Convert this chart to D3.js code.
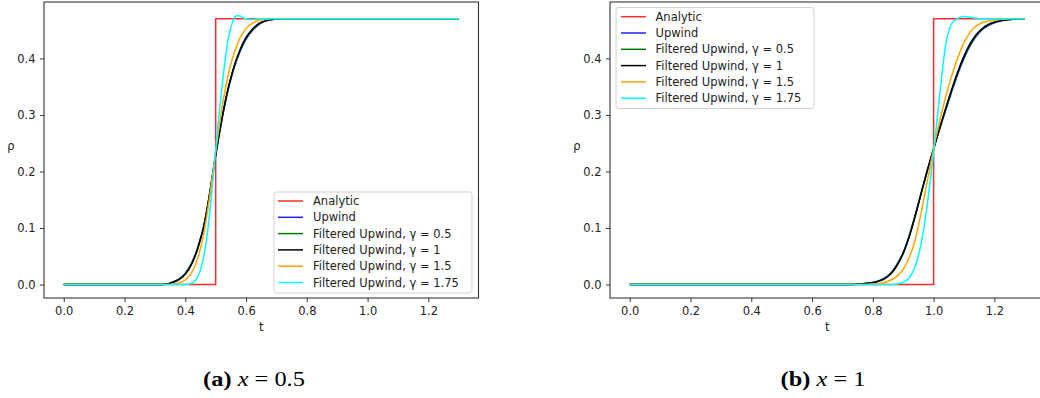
<!DOCTYPE html>
<html><head><meta charset="utf-8">
<script src="https://cdn.jsdelivr.net/npm/d3@7"></script>
<style>body{margin:0;background:#fff}svg{display:block}</style>
</head><body><svg id="c" width="1040" height="398"></svg>
<script>
// ---------- data ----------
const seriesNames = ["Analytic", "Upwind", "Filtered Upwind, γ = 0.5", "Filtered Upwind, γ = 1", "Filtered Upwind, γ = 1.5", "Filtered Upwind, γ = 1.75"];
const xTickValues = [0.0, 0.2, 0.4, 0.6, 0.8, 1.0, 1.2];
const yTickValues = [0.0, 0.1, 0.2, 0.3, 0.4];

// panel (a): x = 0.5
const analyticTA = [0, 0.5, 0.5, 1.3];
const analyticRhoA = [0, 0, 0.47, 0.47];
const tA = [0, 0.30, 0.34, 0.36, 0.38, 0.40, 0.42, 0.44, 0.45, 0.46, 0.47, 0.48, 0.49, 0.50, 0.51, 0.52, 0.53, 0.54, 0.55, 0.56, 0.57, 0.58, 0.59, 0.60, 0.62, 0.64, 0.66, 0.68, 0.72, 1.30];
const upwindA  = [0, 0, 0.001, 0.005, 0.010, 0.020, 0.037, 0.064, 0.082, 0.102, 0.129, 0.160, 0.194, 0.228, 0.260, 0.290, 0.317, 0.342, 0.363, 0.382, 0.398, 0.412, 0.424, 0.434, 0.449, 0.459, 0.465, 0.468, 0.470, 0.470];
const filt05A  = [0, 0, 0.001, 0.004, 0.009, 0.019, 0.036, 0.063, 0.081, 0.101, 0.128, 0.160, 0.195, 0.229, 0.261, 0.291, 0.319, 0.344, 0.365, 0.384, 0.400, 0.414, 0.426, 0.436, 0.450, 0.460, 0.466, 0.469, 0.470, 0.470];
const filt1A   = [0, 0, 0.001, 0.004, 0.009, 0.018, 0.035, 0.062, 0.080, 0.100, 0.128, 0.160, 0.195, 0.230, 0.262, 0.292, 0.320, 0.345, 0.366, 0.385, 0.401, 0.415, 0.427, 0.437, 0.451, 0.461, 0.466, 0.469, 0.470, 0.470];
const filt15A  = [0, 0, 0, 0.001, 0.003, 0.008, 0.020, 0.045, 0.064, 0.088, 0.119, 0.155, 0.195, 0.235, 0.274, 0.310, 0.341, 0.368, 0.390, 0.408, 0.423, 0.436, 0.445, 0.453, 0.462, 0.467, 0.469, 0.470, 0.470, 0.470];
const filt175A = [0, 0, 0, 0, 0, 0, 0.002, 0.013, 0.026, 0.048, 0.080, 0.125, 0.180, 0.238, 0.295, 0.345, 0.392, 0.430, 0.455, 0.470, 0.476, 0.475, 0.472, 0.470, 0.469, 0.470, 0.470, 0.470, 0.470, 0.470];

// panel (b): x = 1
const analyticTB = [0, 1.0, 1.0, 1.3];
const analyticRhoB = [0, 0, 0.47, 0.47];
const tB = [0, 0.70, 0.76, 0.80, 0.82, 0.84, 0.86, 0.88, 0.90, 0.92, 0.94, 0.96, 0.98, 1.00, 1.02, 1.04, 1.06, 1.08, 1.10, 1.12, 1.14, 1.16, 1.18, 1.20, 1.22, 1.25, 1.30];
const upwindB  = [0, 0, 0.001, 0.004, 0.007, 0.012, 0.021, 0.036, 0.057, 0.087, 0.124, 0.164, 0.203, 0.240, 0.275, 0.309, 0.342, 0.373, 0.400, 0.422, 0.439, 0.451, 0.458, 0.463, 0.466, 0.469, 0.470];
const filt05B  = [0, 0, 0.001, 0.003, 0.006, 0.011, 0.020, 0.035, 0.056, 0.086, 0.123, 0.163, 0.203, 0.240, 0.276, 0.311, 0.344, 0.375, 0.402, 0.424, 0.441, 0.452, 0.459, 0.464, 0.467, 0.469, 0.470];
const filt1B   = [0, 0, 0.001, 0.003, 0.006, 0.011, 0.019, 0.034, 0.055, 0.085, 0.122, 0.163, 0.203, 0.240, 0.277, 0.312, 0.346, 0.377, 0.404, 0.426, 0.442, 0.453, 0.460, 0.464, 0.467, 0.469, 0.470];
const filt15B  = [0, 0, 0, 0.001, 0.002, 0.004, 0.008, 0.015, 0.027, 0.048, 0.080, 0.130, 0.185, 0.240, 0.290, 0.332, 0.370, 0.402, 0.428, 0.446, 0.457, 0.463, 0.466, 0.468, 0.469, 0.470, 0.470];
const filt175B = [0, 0, 0, 0, 0, 0, 0, 0.001, 0.004, 0.012, 0.033, 0.075, 0.145, 0.235, 0.335, 0.425, 0.462, 0.471, 0.474, 0.473, 0.471, 0.470, 0.470, 0.470, 0.470, 0.470, 0.470];

// ---------- styles / layout ----------
const seriesColors = ["#ff2a2a", "#1f1fff", "#007a00", "#000000", "#ffa500", "#00ffff"];
const FONT = "'DejaVu Sans', sans-serif";
const panels = [
  {left: 44, ta: analyticTA, ra: analyticRhoA, t: tA, series: [upwindA, filt05A, filt1A, filt15A, filt175A],
   legend: {x: 274, y: 192, w: 198, h: 101, row0: 201, hx0: 278, hx1: 303, tx: 313},
   caption: {cx: 254, label: "(a)", rest: "0.5"}},
  {left: 610, ta: analyticTB, ra: analyticRhoB, t: tB, series: [upwindB, filt05B, filt1B, filt15B, filt175B],
   legend: {x: 616, y: 7.5, w: 198, h: 101, row0: 16.7, hx0: 621, hx1: 646, tx: 655.5},
   caption: {cx: 823, label: "(b)", rest: "1"}}
];
const W = 434.5, TOP = 2, BOT = 298, ROW = 16.3;

const svg = d3.select("#c");

panels.forEach(p => {
  const x = d3.scaleLinear().domain([-0.065, 1.365]).range([p.left, p.left + W]);
  const y = d3.scaleLinear().domain([-0.0238, 0.4998]).range([BOT, TOP]);
  const g = svg.append("g");

  // lines
  const lin = d3.line().x(d => x(d[0])).y(d => y(d[1]));
  const smooth = d3.line().x(d => x(d[0])).y(d => y(d[1])).curve(d3.curveMonotoneX);
  g.append("path").datum(p.ta.map((t, i) => [t, p.ra[i]]))
    .attr("d", lin).attr("fill", "none").attr("stroke", seriesColors[0]).attr("stroke-width", 1.5);
  p.series.forEach((s, k) => {
    g.append("path").datum(p.t.map((t, i) => [t, s[i]]))
      .attr("d", smooth).attr("fill", "none").attr("stroke", seriesColors[k + 1])
      .attr("stroke-width", 1.5).attr("stroke-linejoin", "round");
  });

  // spines
  g.append("rect").attr("x", p.left).attr("y", TOP).attr("width", W).attr("height", BOT - TOP)
    .attr("fill", "none").attr("stroke", "#333").attr("stroke-width", 1.1);

  // axes
  const xa = g.append("g").attr("transform", `translate(0,${BOT})`)
    .call(d3.axisBottom(x).tickValues(xTickValues).tickFormat(d3.format(".1f")).tickSize(4).tickPadding(5));
  const ya = g.append("g").attr("transform", `translate(${p.left},0)`)
    .call(d3.axisLeft(y).tickValues(yTickValues).tickFormat(d3.format(".1f")).tickSize(4).tickPadding(4.5));
  [xa, ya].forEach(a => {
    a.select(".domain").remove();
    a.selectAll("line").attr("stroke", "#333");
    a.selectAll("text").attr("font-family", FONT).attr("font-size", 11.5).attr("fill", "#222");
  });

  // axis labels
  g.append("text").attr("x", p.left + W / 2).attr("y", 327).attr("dy", "0.35em")
    .attr("text-anchor", "middle").attr("font-family", FONT).attr("font-size", 11.5).attr("fill", "#222").text("t");
  g.append("text").attr("x", p.left - 33).attr("y", 146).attr("dy", "0.35em")
    .attr("text-anchor", "middle").attr("font-family", FONT).attr("font-size", 11.5).attr("fill", "#222").text("ρ");

  // legend
  const L = p.legend;
  const lg = g.append("g");
  lg.append("rect").attr("x", L.x).attr("y", L.y).attr("width", L.w).attr("height", L.h)
    .attr("rx", 2.5).attr("fill", "#fff").attr("fill-opacity", 0.8).attr("stroke", "#d0d0d0").attr("stroke-width", 1);
  seriesNames.forEach((name, i) => {
    const yy = L.row0 + i * ROW;
    lg.append("line").attr("x1", L.hx0).attr("x2", L.hx1).attr("y1", yy).attr("y2", yy)
      .attr("stroke", seriesColors[i]).attr("stroke-width", 1.5);
    lg.append("text").attr("x", L.tx).attr("y", yy).attr("dy", "0.35em")
      .attr("font-family", FONT).attr("font-size", 11.5).attr("fill", "#222").text(name);
  });

  // caption
  const cap = svg.append("text").attr("transform", `translate(${p.caption.cx},386) scale(1.22,1)`)
    .attr("text-anchor", "middle").attr("font-family", "'Liberation Serif', 'Times New Roman', serif")
    .attr("font-size", 20).attr("fill", "#000");
  cap.append("tspan").attr("font-weight", "bold").text(p.caption.label);
  cap.append("tspan").text(" ");
  cap.append("tspan").attr("font-style", "italic").text("x");
  cap.append("tspan").text(" = " + p.caption.rest);
});
</script></body></html>
